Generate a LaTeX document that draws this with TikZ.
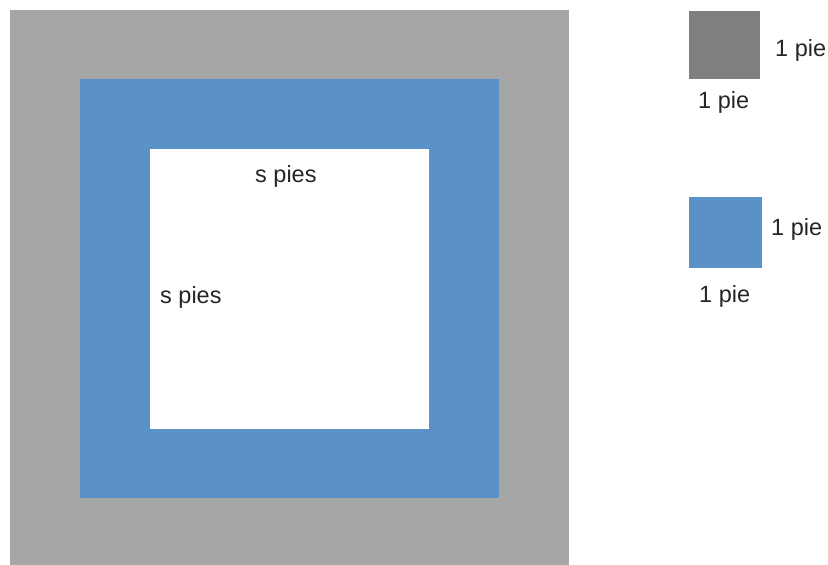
\documentclass[tikz,border=0pt]{standalone}
\usepackage{fontspec}
\setmainfont{Liberation Sans}
\definecolor{outergray}{HTML}{A6A6A6}
\definecolor{darkgray}{HTML}{7F7F7F}
\definecolor{pieblue}{HTML}{5A92C8}
\begin{document}
\begin{tikzpicture}[x=1pt,y=-1pt,
  lbl/.style={anchor=base west,inner sep=0pt,font=\fontsize{23.5}{27}\selectfont,text=black!85}]
\useasboundingbox (0,0) rectangle (828,565);
\fill[white] (0,0) rectangle (828,565);
% big squares
\fill[outergray] (10,10) rectangle (569,565);
\fill[pieblue] (80,79) rectangle (499,498);
\fill[white] (150,149) rectangle (429,429);
% legend squares
\fill[darkgray] (689,11) rectangle (760,79);
\fill[pieblue] (689,197) rectangle (762,268);
% labels
\node[lbl] (stop) at (255,182) {s pies};
\node[lbl] (sleft) at (160,303) {s pies};
\node[lbl] (gr) at (775,56) {1 pie};
\node[lbl] (gb) at (698,108) {1 pie};
\node[lbl] (br) at (771,235) {1 pie};
\node[lbl] (bb) at (699,302) {1 pie};
\end{tikzpicture}
\end{document}
